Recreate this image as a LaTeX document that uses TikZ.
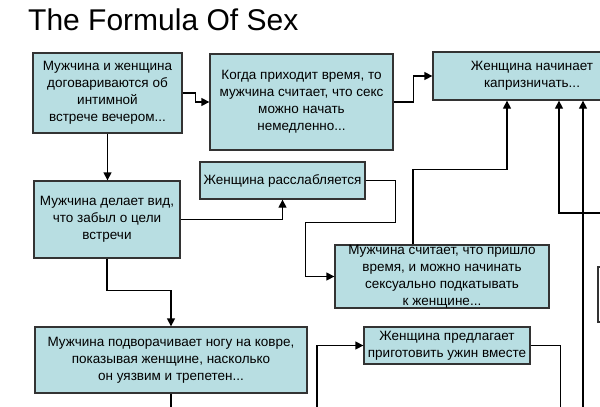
\documentclass[tikz,border=0pt]{standalone}
\usepackage{fontspec}
\setmainfont{Liberation Sans}
\usetikzlibrary{arrows.meta}
\definecolor{cajafondo}{RGB}{184,222,226}
\tikzset{
  caja/.style={draw=black!80, fill=cajafondo, line width=1.3pt, inner sep=0pt,
    align=center, font=\fontsize{13.5}{17}\selectfont},
  flecha/.style={line width=1.3pt, -{Triangle[length=8pt,width=8pt]}},
  linea/.style={line width=1.3pt}
}
\begin{document}
\begin{tikzpicture}[x=1pt, y=-1pt, line join=miter]
  \useasboundingbox (0,0) rectangle (600,407);
  \clip (0,0) rectangle (600,407);
  % el título
  \node[anchor=base west, inner sep=0pt, font=\fontsize{30}{36}\selectfont] (titulo) at (28,30)
    {The Formula Of Sex};
  % las cajas, de arriba abajo
  \node[caja, minimum width=149pt, minimum height=80pt] (acuerdo) at (107.5,93)
    {Мужчина и женщина\\договариваются об\\интимной\\встрече вечером...};
  \node[caja, minimum width=183pt, minimum height=96pt] (cuando) at (301.5,102)
    {Когда приходит время, то\\мужчина считает, что секс\\можно начать\\немедленно...};
  \node[caja, minimum width=198pt, minimum height=48pt] (capricho) at (532,76)
    {Женщина начинает\\капризничать...};
  \node[caja, minimum width=165pt, minimum height=37pt] (relaja) at (282.5,180.5)
    {Женщина расслабляется};
  \node[caja, minimum width=146pt, minimum height=77pt] (olvido) at (107,219.5)
    {Мужчина делает вид,\\что забыл о цели\\встречи};
  \node[caja, minimum width=214pt, minimum height=63pt] (momento) at (442,276.5)
    {Мужчина считает, что пришло\\время, и можно начинать\\сексуально подкатывать\\к женщине...};
  \node[caja, minimum width=272pt, minimum height=66pt] (pierna) at (171,360)
    {Мужчина подворачивает ногу на ковре,\\показывая женщине, насколько\\он уязвим и трепетен...};
  \node[caja, minimum width=166pt, minimum height=37pt] (cena) at (447,345.5)
    {Женщина предлагает\\приготовить ужин вместе};
  \node[caja, fill=white, minimum width=60pt, minimum height=55pt] (otra) at (628,294.5) {};
  % los cabos que salen fuera del dibujo
  \coordinate (fueraA) at (620,213);
  \coordinate (fueraB) at (583,420);
  \coordinate (fueraC) at (317,420);
  % las flechas
  \draw[flecha] (acuerdo.east) -- ++(13,0) |- (cuando.west);
  \draw[flecha] (cuando.east) -- ++(20,0) |- (capricho.west);
  \draw[flecha] (acuerdo.south) -- (acuerdo.south |- olvido.north);
  \draw[flecha] (olvido.east) -| (relaja.south);
  \draw[flecha] (relaja.east) -- ++(30,0) -- ++(0,42) -- ++(-90,0) |- (momento.west);
  \draw[flecha] ([xshift=-29pt]momento.north) -- ++(0,-75) -| ([xshift=-25pt]capricho.south);
  \draw[flecha] (fueraA) -| ([xshift=27pt]capricho.south);
  \draw[flecha] (fueraB) -- (fueraB |- capricho.south);
  \draw[flecha] (olvido.south) -- ++(0,32) -| (pierna.north);
  \draw[flecha] (fueraC) |- (cena.west);
  \draw[linea] (pierna.south) -- ++(0,20);
  \draw[linea] (cena.east) -- ++(30,0) -- ++(0,80);
\end{tikzpicture}
\end{document}
